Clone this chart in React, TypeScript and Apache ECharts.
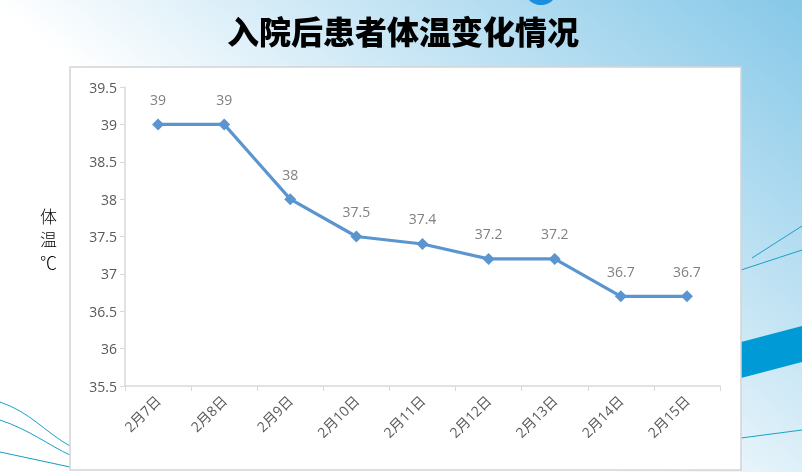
import React, { useEffect, useRef } from "react";
import * as echarts from "echarts";

const dates = ["2月7日", "2月8日", "2月9日", "2月10日", "2月11日", "2月12日", "2月13日", "2月14日", "2月15日"];
const temps = [39, 39, 38, 37.5, 37.4, 37.2, 37.2, 36.7, 36.7];

const FONT = "'Noto Sans CJK SC', 'Open Sans', sans-serif";
const NUM_FONT = "'Open Sans', 'Noto Sans CJK SC', sans-serif";

const App: React.FC = () => {
  const chartRef = useRef<HTMLDivElement>(null);

  useEffect(() => {
    if (!chartRef.current) return;
    const chart = echarts.init(chartRef.current, undefined, { renderer: "svg" });

    const option: echarts.EChartsOption = {
      animation: false,
      title: {
        text: "入院后患者体温变化情况",
        left: 222,
        top: 9,
        textStyle: { fontFamily: FONT, fontSize: 32, fontWeight: 900, color: "#000" },
      },
      graphic: [
        {
          type: "rect",
          z: -10,
          shape: { x: 0, y: 0, width: 802, height: 472 },
          style: {
            fill: new echarts.graphic.LinearGradient(0, 0.75, 1, 0, [
              { offset: 0, color: "#ffffff" },
              { offset: 0.35, color: "#ffffff" },
              { offset: 0.6, color: "#cfe9f6" },
              { offset: 1, color: "#86c8e8" },
            ]),
          },
        },
        { type: "circle", z: -9, shape: { cx: 541, cy: -12, r: 17 }, style: { fill: "#1a8fe0" } },
        // bottom-left thin curves
        { type: "bezierCurve", z: -9, shape: { x1: 0, y1: 402, x2: 70, y2: 446, cpx1: 30, cpy1: 412, cpx2: 45, cpy2: 432 }, style: { stroke: "#1aa0c8", lineWidth: 1, fill: "none" } },
        { type: "bezierCurve", z: -9, shape: { x1: 0, y1: 420, x2: 70, y2: 455, cpx1: 30, cpy1: 430, cpx2: 50, cpy2: 446 }, style: { stroke: "#1aa0c8", lineWidth: 1, fill: "none" } },
        { type: "line", z: -9, shape: { x1: 0, y1: 452, x2: 70, y2: 467 }, style: { stroke: "#1aa0c8", lineWidth: 1.2 } },
        // right side decorations
        { type: "line", z: -9, shape: { x1: 741, y1: 270, x2: 802, y2: 250 }, style: { stroke: "#1aa0c8", lineWidth: 1 } },
        { type: "line", z: -9, shape: { x1: 752, y1: 258, x2: 802, y2: 226 }, style: { stroke: "#1aa0c8", lineWidth: 1 } },
        { type: "polygon", z: -9, shape: { points: [[741, 342], [802, 326], [802, 362], [741, 378]] }, style: { fill: "#009ad6" } },
        { type: "line", z: -9, shape: { x1: 741, y1: 438, x2: 802, y2: 430 }, style: { stroke: "#1aa0c8", lineWidth: 1 } },
        // chart panel
        {
          type: "rect",
          z: -5,
          shape: { x: 70, y: 67, width: 671, height: 403 },
          style: { fill: "#ffffff", stroke: "#d4d4d4", lineWidth: 1.5 },
        },
        {
          type: "text",
          z: 5,
          x: 40,
          y: 204,
          style: {
            text: "体\n温\n℃",
            fontFamily: FONT,
            fontWeight: 300,
            fontSize: 17,
            lineHeight: 23,
            fill: "#000",
          },
        },
      ],
      grid: { left: 125, right: 82, top: 87, bottom: 86 },
      xAxis: {
        type: "category",
        data: dates,
        boundaryGap: true,
        axisLine: { lineStyle: { color: "#d9d9d9", width: 1.5 } },
        axisTick: { show: true, length: 5, lineStyle: { color: "#d9d9d9" } },
        axisLabel: { rotate: 45, color: "#595959", fontSize: 14, fontFamily: NUM_FONT, margin: 12, interval: 0 },
      },
      yAxis: {
        type: "value",
        min: 35.5,
        max: 39.5,
        interval: 0.5,
        splitLine: { show: false },
        axisLine: { show: true, lineStyle: { color: "#d9d9d9", width: 1.5 } },
        axisTick: { show: true, length: 5, lineStyle: { color: "#d9d9d9" } },
        axisLabel: { color: "#595959", fontSize: 14, fontFamily: NUM_FONT, margin: 8 },
      },
      series: [
        {
          type: "line",
          data: temps,
          symbol: "diamond",
          symbolSize: 12,
          lineStyle: { color: "#5b95cf", width: 3.2 },
          itemStyle: { color: "#5b95cf" },
          label: { show: true, position: "top", distance: 12, color: "#808080", fontSize: 14, fontFamily: NUM_FONT },
        },
      ],
    };

    chart.setOption(option);
    return () => chart.dispose();
  }, []);

  return (
    <div
      ref={chartRef}
      style={{ position: "fixed", left: 0, top: 0, width: 802, height: 472 }}
    />
  );
};

export default App;
